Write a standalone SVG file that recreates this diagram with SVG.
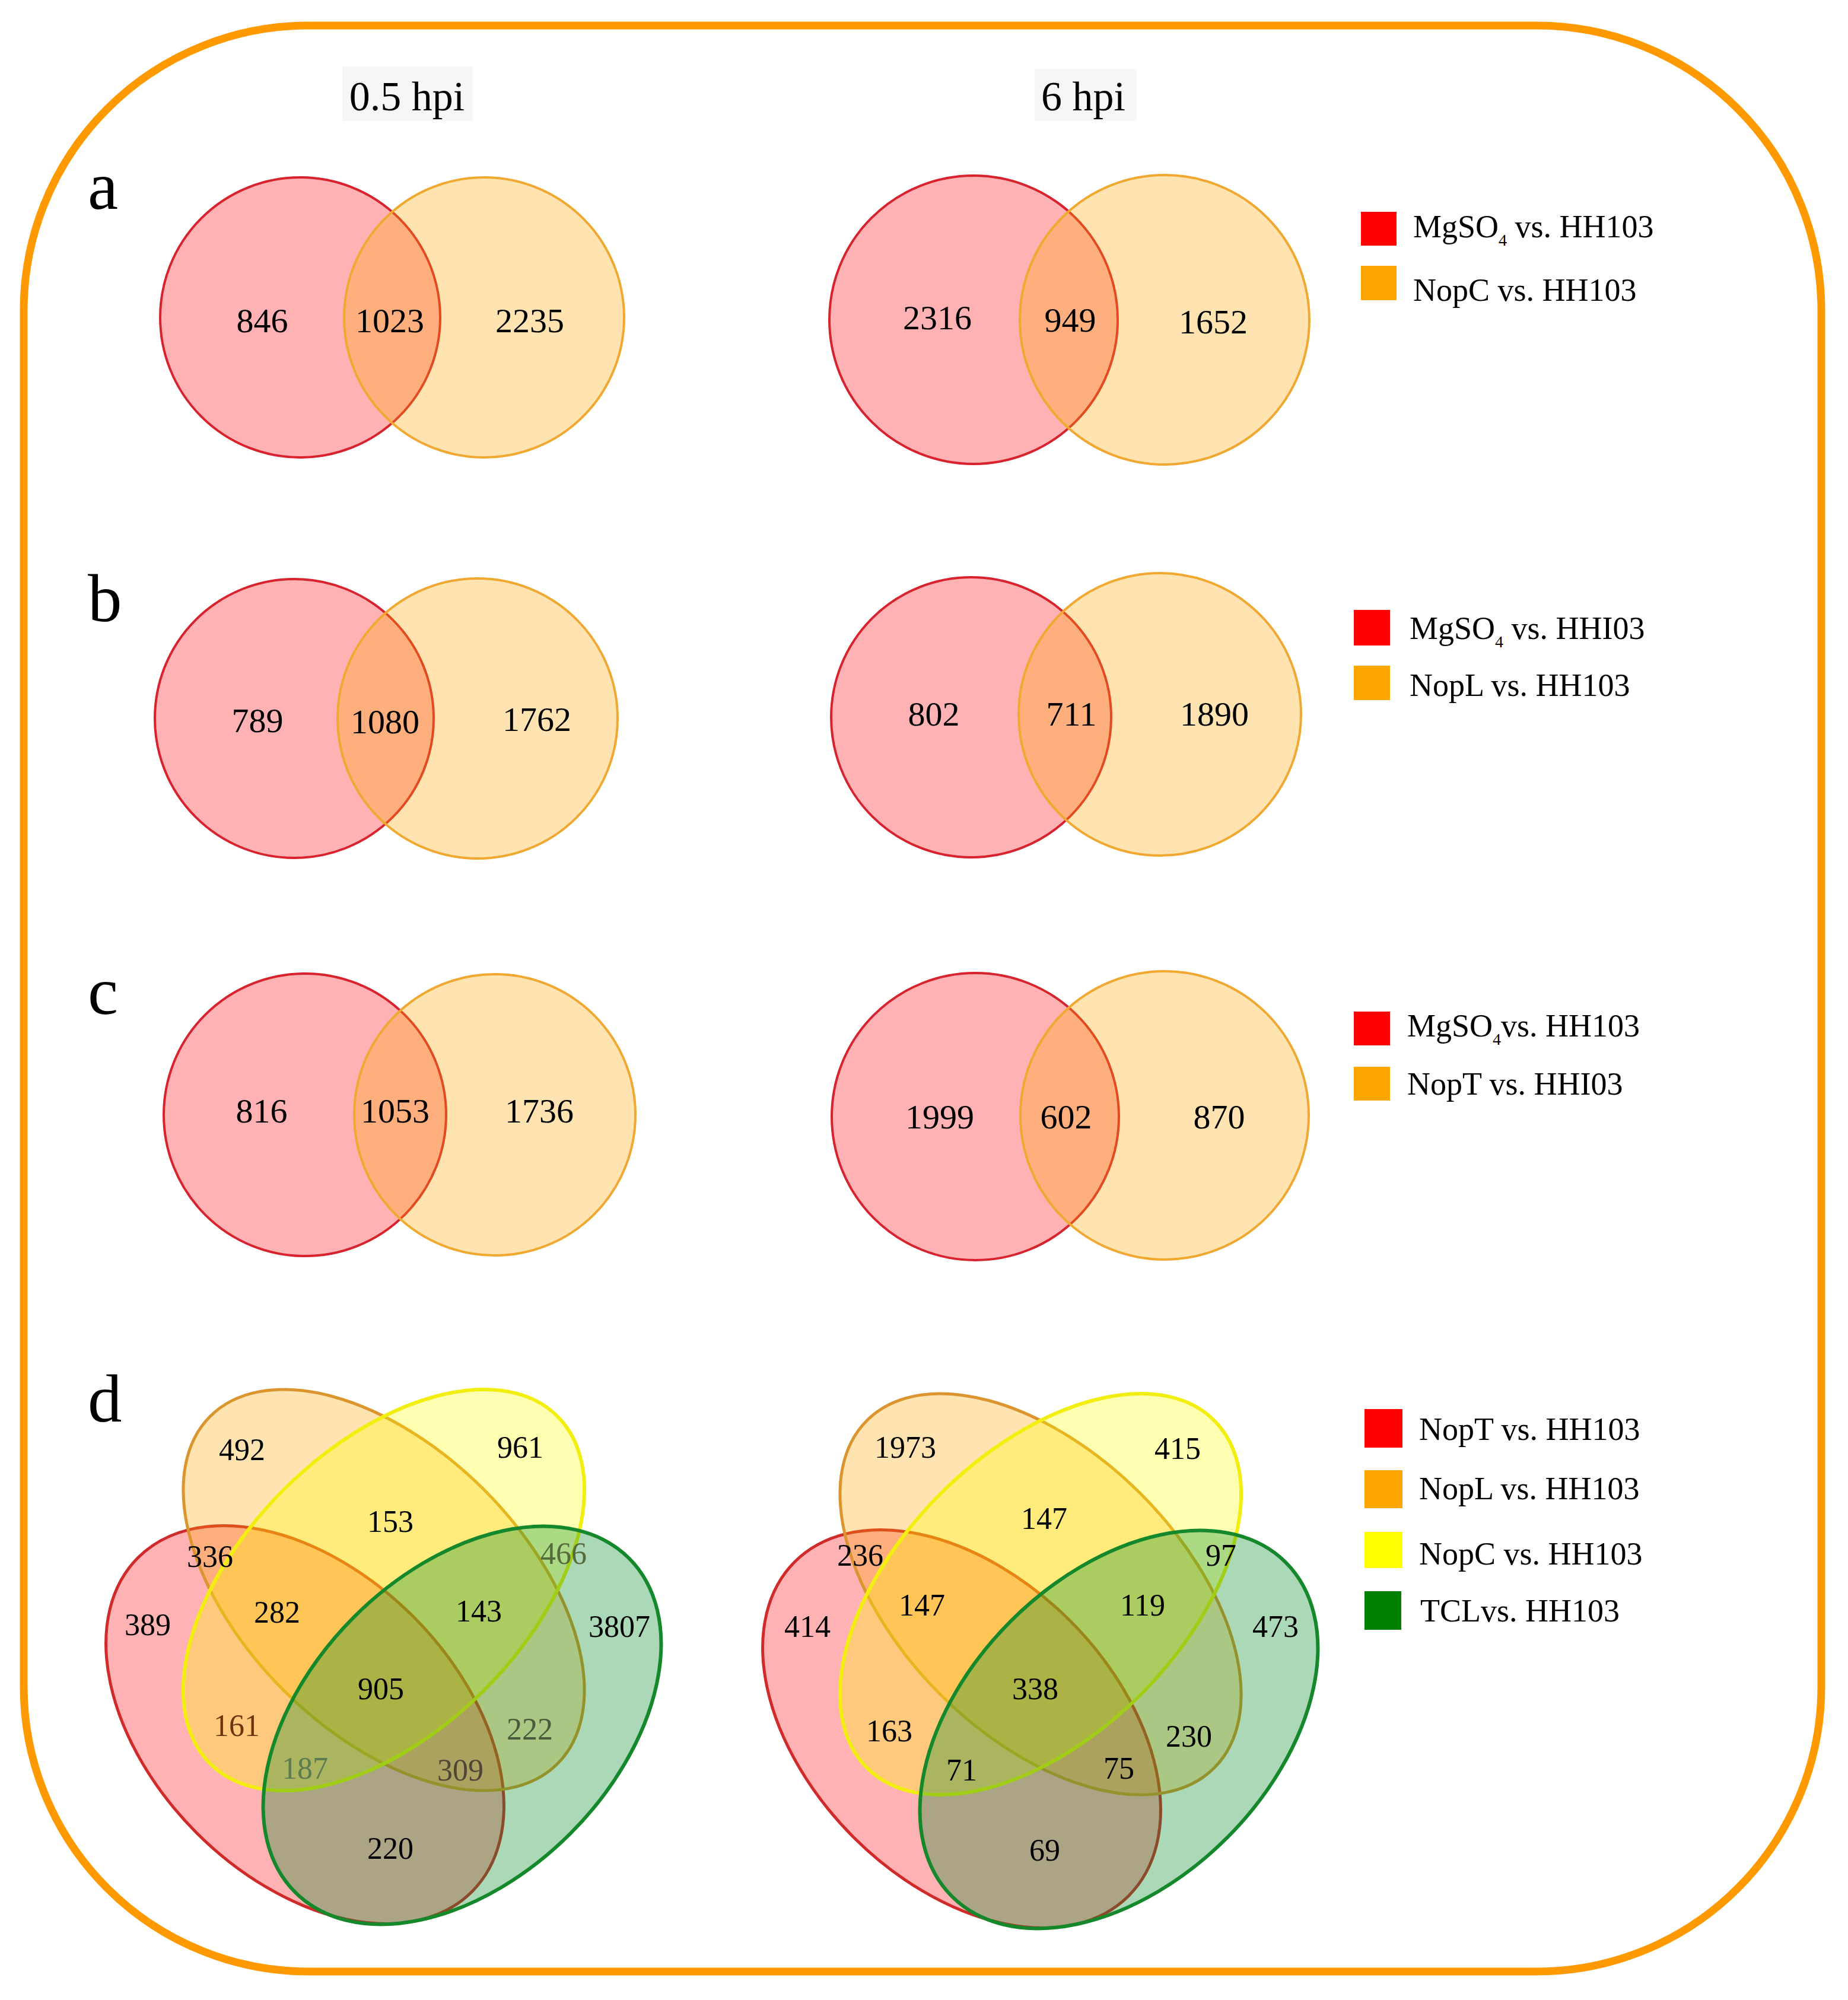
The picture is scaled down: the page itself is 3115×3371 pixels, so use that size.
<svg xmlns="http://www.w3.org/2000/svg" width="3115" height="3371" viewBox="0 0 3115 3371">
<style>
text{font-family:"Liberation Serif","Times New Roman",serif;fill:#000}
.hdr{font-size:70px;text-anchor:middle}
.pl{font-size:115px}
.n{font-size:58px;text-anchor:middle}
.m{font-size:52px;text-anchor:middle}
.lg{font-size:54px}
.sub{font-size:28px}
.cr{fill:#ff0008;fill-opacity:.3;stroke:#d8232e;stroke-width:4}
.co{fill:#ffa500;fill-opacity:.3;stroke:#f0a830;stroke-width:4}
.er{fill:#ff0008;fill-opacity:.3;stroke:#d02a2a;stroke-width:5}
.eo{fill:#ffa500;fill-opacity:.3;stroke:#dc952e;stroke-width:5}
.ey{fill:#ffff00;fill-opacity:.3;stroke:#f2ee10;stroke-width:6}
.eg{fill:#008c28;fill-opacity:.33;stroke:#14882a;stroke-width:6}
.hb{fill:#f6f6f6}
</style>
<rect x="0" y="0" width="3115" height="3371" fill="#fff"/>
<rect id="frame" x="40" y="43" width="3030" height="3280" rx="480" ry="480" fill="none" stroke="#ff9900" stroke-width="13"/>

<g id="headers">
<rect class="hb" x="577" y="112" width="220" height="92"/>
<text class="hdr" x="686" y="186">0.5 hpi</text>
<rect class="hb" x="1744" y="116" width="172" height="88"/>
<text class="hdr" x="1826" y="186">6 hpi</text>
</g>

<g id="panel-labels">
<text class="pl" x="148" y="352">a</text>
<text class="pl" x="148" y="1047">b</text>
<text class="pl" x="148" y="1709">c</text>
<text class="pl" x="148" y="2396">d</text>
</g>

<!-- panel a -->
<g id="venn-a-05">
<circle id="a05-mgso4" class="cr" cx="506" cy="535" r="236"/>
<circle id="a05-nopc" class="co" cx="816" cy="535" r="236"/>
<text class="n" x="442" y="560">846</text>
<text class="n" x="657" y="560">1023</text>
<text class="n" x="893" y="560">2235</text>
</g>
<g id="venn-a-6">
<circle id="a6-mgso4" class="cr" cx="1641" cy="539" r="243"/>
<circle id="a6-nopc" class="co" cx="1963" cy="539" r="244"/>
<text class="n" x="1580" y="555">2316</text>
<text class="n" x="1804" y="559">949</text>
<text class="n" x="2045" y="562">1652</text>
</g>
<g id="legend-a">
<rect x="2294" y="357" width="60" height="57" fill="#ff0000"/>
<text class="lg" x="2382" y="400">MgSO<tspan class="sub" dy="14">4</tspan><tspan dy="-14"> vs. HH103</tspan></text>
<rect x="2294" y="448" width="60" height="58" fill="#ffa500"/>
<text class="lg" x="2382" y="507">NopC vs. HH103</text>
</g>

<!-- panel b -->
<g id="venn-b-05">
<circle id="b05-mgso4" class="cr" cx="496" cy="1211" r="235"/>
<circle id="b05-nopl" class="co" cx="805" cy="1211" r="236"/>
<text class="n" x="434" y="1234">789</text>
<text class="n" x="649" y="1236">1080</text>
<text class="n" x="905" y="1232">1762</text>
</g>
<g id="venn-b-6">
<circle id="b6-mgso4" class="cr" cx="1637" cy="1209" r="236"/>
<circle id="b6-nopl" class="co" cx="1955" cy="1204" r="238"/>
<text class="n" x="1574" y="1223">802</text>
<text class="n" x="1806" y="1223">711</text>
<text class="n" x="2047" y="1223">1890</text>
</g>
<g id="legend-b">
<rect x="2282" y="1028" width="61" height="60" fill="#ff0000"/>
<text class="lg" x="2376" y="1077">MgSO<tspan class="sub" dy="14">4</tspan><tspan dy="-14"> vs. HHI03</tspan></text>
<rect x="2282" y="1122" width="61" height="58" fill="#ffa500"/>
<text class="lg" x="2376" y="1173">NopL vs. HH103</text>
</g>

<!-- panel c -->
<g id="venn-c-05">
<circle id="c05-mgso4" class="cr" cx="514" cy="1879" r="238"/>
<circle id="c05-nopt" class="co" cx="834" cy="1879" r="237"/>
<text class="n" x="441" y="1892">816</text>
<text class="n" x="666" y="1892">1053</text>
<text class="n" x="909" y="1892">1736</text>
</g>
<g id="venn-c-6">
<circle id="c6-mgso4" class="cr" cx="1644" cy="1882" r="242"/>
<circle id="c6-nopt" class="co" cx="1963" cy="1880" r="243"/>
<text class="n" x="1584" y="1902">1999</text>
<text class="n" x="1797" y="1902">602</text>
<text class="n" x="2055" y="1902">870</text>
</g>
<g id="legend-c">
<rect x="2282" y="1705" width="61" height="57" fill="#ff0000"/>
<text class="lg" x="2372" y="1747">MgSO<tspan class="sub" dy="14">4</tspan><tspan dy="-14">vs. HH103</tspan></text>
<rect x="2282" y="1798" width="61" height="57" fill="#ffa500"/>
<text class="lg" x="2372" y="1845">NopT vs. HHI03</text>
</g>

<!-- panel d -->
<defs>
<g id="quad">
<ellipse class="er" cx="0" cy="0" rx="398" ry="258" transform="translate(514,2907) rotate(45)"/>
<ellipse class="eo" cx="0" cy="0" rx="414" ry="239" transform="translate(647,2680) rotate(45)"/>
<ellipse class="ey" cx="0" cy="0" rx="414" ry="239" transform="translate(647,2680) rotate(-45)"/>
<ellipse class="eg" cx="0" cy="0" rx="398" ry="258" transform="translate(779,2908) rotate(-45)"/>
</g>
</defs>
<g id="venn-d-05">
<use href="#quad"/>
<text class="m" x="408" y="2461">492</text>
<text class="m" x="877" y="2457">961</text>
<text class="m" x="658" y="2582">153</text>
<text class="m" x="354" y="2641">336</text>
<text class="m" x="950" y="2636" style="fill:#566b3c">466</text>
<text class="m" x="467" y="2735">282</text>
<text class="m" x="807" y="2733">143</text>
<text class="m" x="249" y="2756">389</text>
<text class="m" x="1044" y="2759">3807</text>
<text class="m" x="642" y="2864">905</text>
<text class="m" x="399" y="2926" style="fill:#6b3510">161</text>
<text class="m" x="893" y="2932" style="fill:#4a5a3c">222</text>
<text class="m" x="514" y="2998" style="fill:#5d7a50">187</text>
<text class="m" x="776" y="3001" style="fill:#4e4636">309</text>
<text class="m" x="658" y="3133">220</text>
</g>
<g id="venn-d-6">
<use href="#quad" transform="translate(1107,7)"/>
<text class="m" x="1526" y="2457">1973</text>
<text class="m" x="1985" y="2459">415</text>
<text class="m" x="1760" y="2577">147</text>
<text class="m" x="1450" y="2639">236</text>
<text class="m" x="2058" y="2639">97</text>
<text class="m" x="1554" y="2723">147</text>
<text class="m" x="1926" y="2723">119</text>
<text class="m" x="1361" y="2759">414</text>
<text class="m" x="2150" y="2759">473</text>
<text class="m" x="1745" y="2864">338</text>
<text class="m" x="1499" y="2935">163</text>
<text class="m" x="2004" y="2944">230</text>
<text class="m" x="1621" y="3001">71</text>
<text class="m" x="1886" y="2998">75</text>
<text class="m" x="1761" y="3136">69</text>
</g>
<g id="legend-d">
<rect x="2300" y="2375" width="64" height="65" fill="#ff0000"/>
<text class="lg" x="2392" y="2427">NopT vs. HH103</text>
<rect x="2300" y="2478" width="64" height="64" fill="#ffa500"/>
<text class="lg" x="2392" y="2527">NopL vs. HH103</text>
<rect x="2300" y="2582" width="64" height="61" fill="#ffff00"/>
<text class="lg" x="2392" y="2637">NopC vs. HH103</text>
<rect x="2300" y="2682" width="62" height="65" fill="#008000"/>
<text class="lg" x="2394" y="2733">TCLvs. HH103</text>
</g>
</svg>
